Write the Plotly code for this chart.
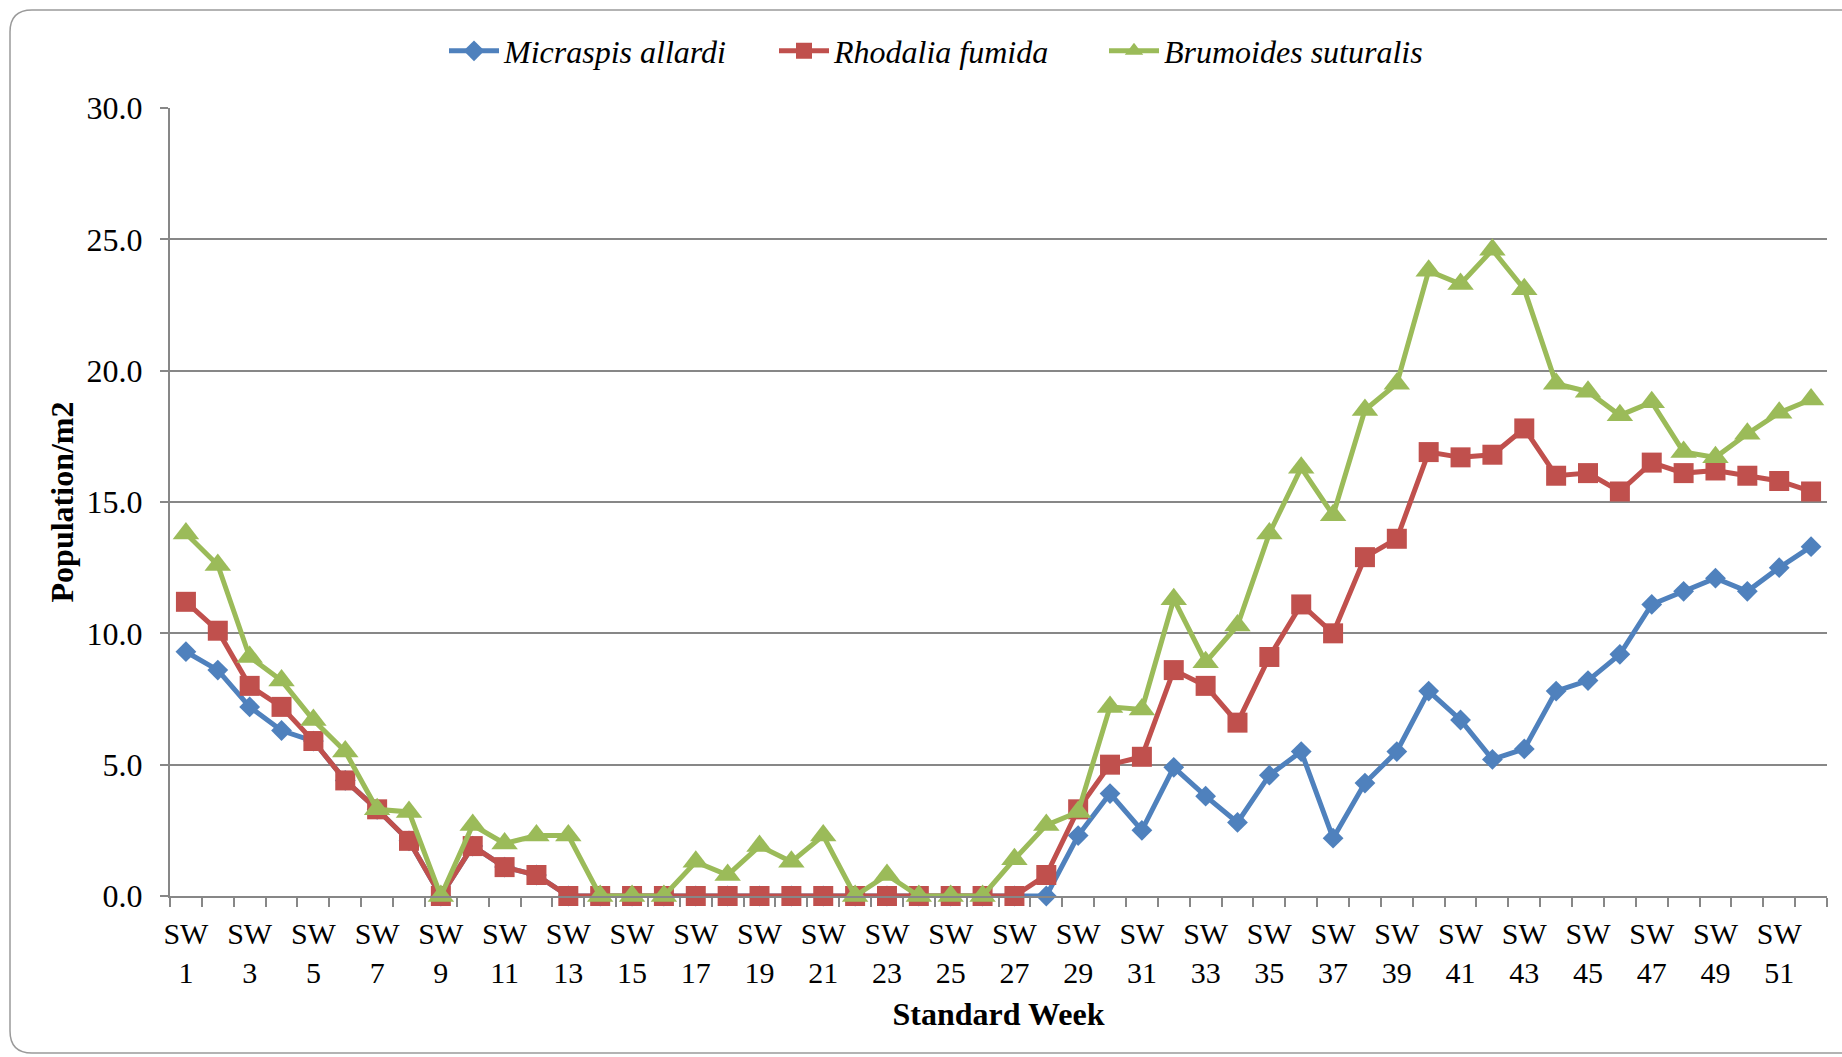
import plotly.graph_objects as go

weeks = list(range(1, 53))
week_labels = ["SW<br>%d" % w for w in weeks]

micraspis = [9.3, 8.6, 7.2, 6.3, 5.9, 4.4, 3.3, 2.1, 0.0, 1.9,
             1.1, 0.8, 0.0, 0.0, 0.0, 0.0, 0.0, 0.0, 0.0, 0.0,
             0.0, 0.0, 0.0, 0.0, 0.0, 0.0, 0.0, 0.0, 2.3, 3.9,
             2.5, 4.9, 3.8, 2.8, 4.6, 5.5, 2.2, 4.3, 5.5, 7.8,
             6.7, 5.2, 5.6, 7.8, 8.2, 9.2, 11.1, 11.6, 12.1, 11.6,
             12.5, 13.3]
rhodalia = [11.2, 10.1, 8.0, 7.2, 5.9, 4.4, 3.3, 2.1, 0.0, 1.9,
            1.1, 0.8, 0.0, 0.0, 0.0, 0.0, 0.0, 0.0, 0.0, 0.0,
            0.0, 0.0, 0.0, 0.0, 0.0, 0.0, 0.0, 0.8, 3.3, 5.0,
            5.3, 8.6, 8.0, 6.6, 9.1, 11.1, 10.0, 12.9, 13.6, 16.9,
            16.7, 16.8, 17.8, 16.0, 16.1, 15.4, 16.5, 16.1, 16.2, 16.0,
            15.8, 15.4]
brumoides = [13.8, 12.6, 9.1, 8.2, 6.7, 5.5, 3.3, 3.2, 0.0, 2.7,
             2.0, 2.3, 2.3, 0.0, 0.0, 0.0, 1.3, 0.8, 1.9, 1.3,
             2.3, 0.0, 0.8, 0.0, 0.0, 0.0, 1.4, 2.7, 3.2, 7.2,
             7.1, 11.3, 8.9, 10.3, 13.8, 16.3, 14.5, 18.5, 19.5, 23.8,
             23.3, 24.6, 23.1, 19.5, 19.2, 18.3, 18.8, 16.9, 16.7, 17.6,
             18.4, 18.9]

series = [
    ("Micraspis allardi", micraspis, "#4F81BD", "diamond", 16),
    ("Rhodalia fumida", rhodalia, "#C0504D", "square", 20),
    ("Brumoides suturalis", brumoides, "#9BBB59", "triangle-up", 23),
]

FONT = "Liberation Serif, Times New Roman, serif"
GRID = "#878787"

fig = go.Figure()
for name, vals, col, sym, sz in series:
    fig.add_trace(go.Scatter(
        x=weeks, y=vals, name=name, mode="lines+markers",
        line=dict(color=col, width=5),
        marker=dict(symbol=sym, size=sz, color=col),
        cliponaxis=False,
    ))

W, H = 1842, 1057
L, R, T, B = 170, 15, 108, 161
pw, ph = W - L - R, H - T - B

def X(px):
    return (px - L) / pw

def Y(py):
    return (H - B - py) / ph

r = 22
path = (f"M {X(10)},{Y(10 + r)} L {X(10)},{Y(1053 - r)} "
        f"Q {X(10)},{Y(1053)} {X(10 + r)},{Y(1053)} "
        f"L {X(1860)},{Y(1053)} L {X(1860)},{Y(10)} "
        f"L {X(10 + r)},{Y(10)} Q {X(10)},{Y(10)} {X(10)},{Y(10 + r)} Z")

fig.update_layout(
    width=W, height=H,
    margin=dict(l=L, r=R, t=T, b=B),
    paper_bgcolor="white", plot_bgcolor="white",
    font=dict(family=FONT, size=31, color="black"),
    showlegend=True,
    legend=dict(
        orientation="h", x=X(444), y=Y(51), xanchor="left", yanchor="middle",
        font=dict(family=FONT, size=32, color="black", style="italic"),
        itemwidth=50, tracegroupgap=0,
        entrywidth=265, entrywidthmode="pixels",
    ),
    shapes=[dict(type="path", xref="paper", yref="paper", path=path,
                 line=dict(color="#9a9a9a", width=1.5), layer="below")],
    xaxis=dict(
        range=[0.5, 52.5],
        tickmode="array",
        tickvals=weeks[::2],
        ticktext=week_labels[::2],
        ticks="", ticklen=0,
        showgrid=False, zeroline=False,
        showline=True, linecolor=GRID, linewidth=2,
        tickfont=dict(family=FONT, size=30, color="black"),
        ticklabelstandoff=10,
        minor=dict(ticks="outside", ticklen=9, tickwidth=2, tickcolor=GRID,
                   tickmode="linear", tick0=0.5, dtick=1, showgrid=False),
        title=dict(text="<b>Standard Week</b>", font=dict(family=FONT, size=32),
                   standoff=15),
    ),
    yaxis=dict(
        range=[0, 30], dtick=5, tick0=0, tickformat=".1f",
        showgrid=True, gridcolor=GRID, gridwidth=2,
        zeroline=False,
        showline=True, linecolor=GRID, linewidth=2,
        ticks="outside", ticklen=8, tickwidth=2, tickcolor=GRID,
        tickfont=dict(family=FONT, size=32, color="black"),
        ticklabelstandoff=11,
        title=dict(text="<b>Population/m2</b>", font=dict(family=FONT, size=32),
                   standoff=3),
    ),
)

fig.write_html("out.html",
               config={"displayModeBar": False},
               post_script="document.body.style.margin='0px';document.body.style.padding='0px';")
